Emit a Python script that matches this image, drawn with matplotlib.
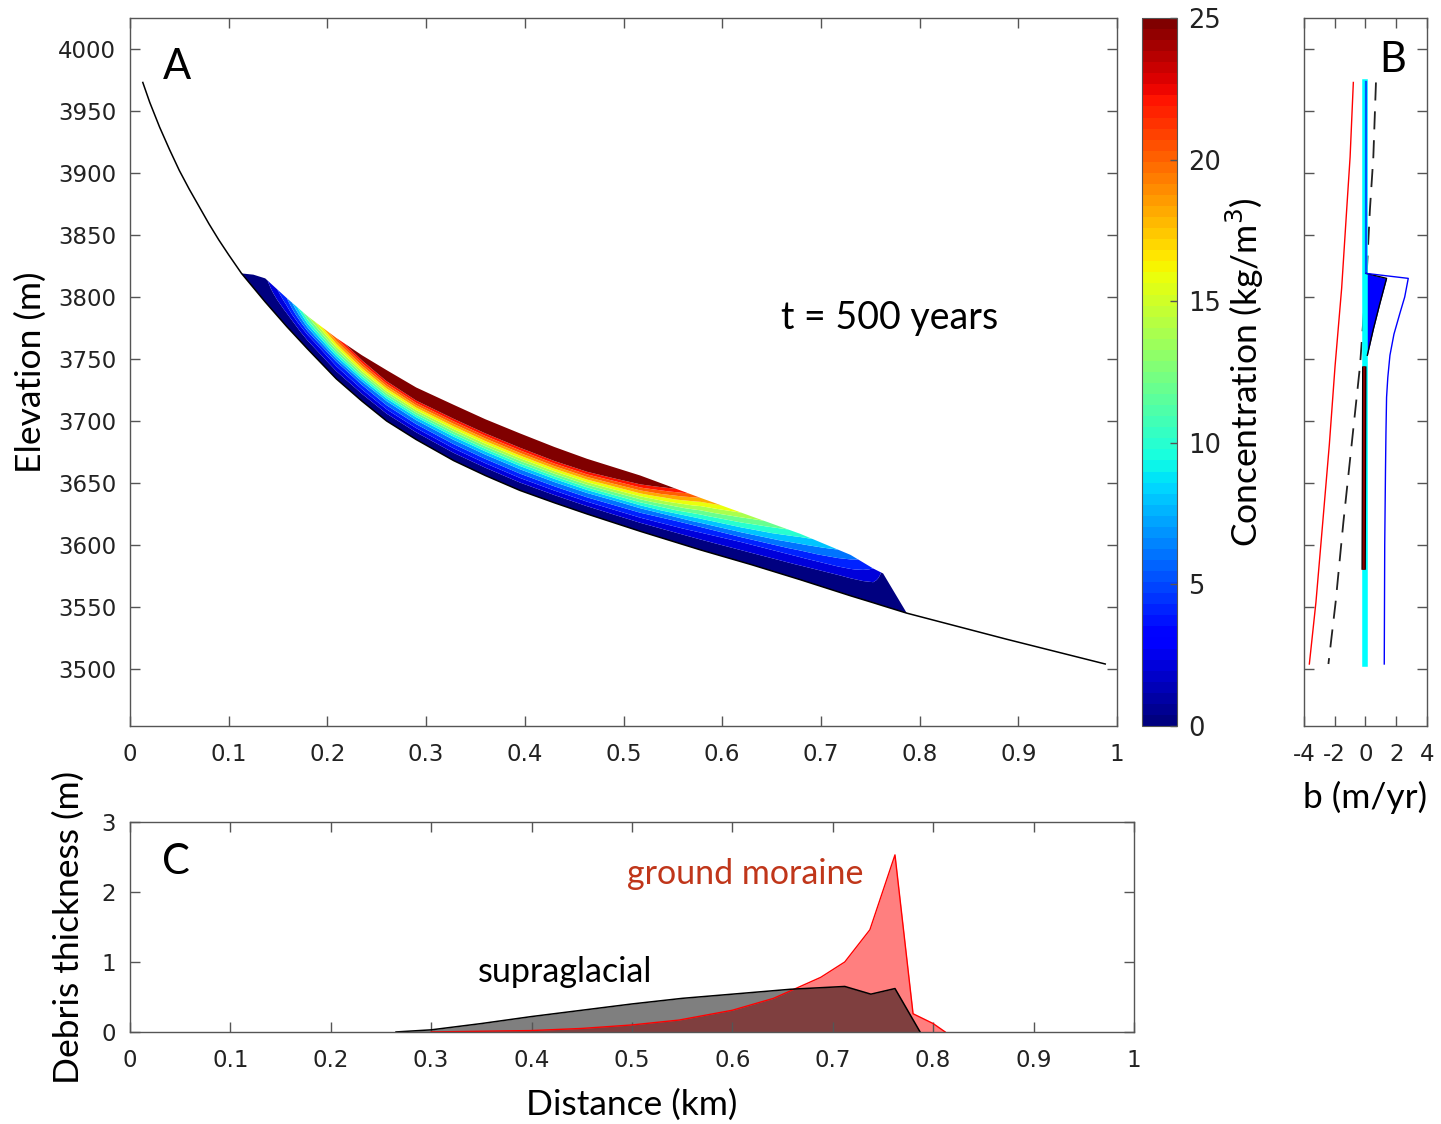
import numpy as np
import matplotlib
matplotlib.use("Agg")
import matplotlib.pyplot as plt
from matplotlib import colors
from matplotlib.cm import ScalarMappable

plt.rcParams["axes.unicode_minus"] = False
plt.rcParams["font.family"] = "DejaVu Sans"
LABEL_FONT = "Lato"

# ---- glacier surface profile (distance km, elevation m) ----
surf_x = [0.013, 0.020, 0.030, 0.040, 0.050, 0.060, 0.070, 0.080, 0.090, 0.100,
          0.113, 0.125, 0.137, 0.159, 0.180, 0.209, 0.235, 0.260, 0.290, 0.328,
          0.360, 0.395, 0.430, 0.463, 0.517, 0.578, 0.630, 0.679, 0.730, 0.753,
          0.763, 0.787, 0.888, 0.988]
surf_z = [3973, 3957, 3937, 3919, 3902, 3887, 3873, 3859, 3846, 3834,
          3819, 3807.5, 3796, 3776, 3758, 3734, 3716, 3700, 3685, 3668,
          3656, 3644, 3634, 3625, 3611, 3596, 3584, 3572, 3559, 3553.4,
          3550.9, 3545, 3524, 3504]

# ---- debris-laden ice layer: stations, base, top, concentration at top ----
deb_x = [0.113, 0.125, 0.137, 0.159, 0.180, 0.209, 0.235, 0.260, 0.290, 0.328,
         0.360, 0.395, 0.430, 0.463, 0.517, 0.578, 0.630, 0.679, 0.730, 0.753,
         0.763, 0.787]
deb_bot = [3819, 3807.5, 3796, 3776, 3758, 3734, 3716, 3700, 3685, 3668,
           3656, 3644, 3634, 3625, 3611, 3596, 3584, 3572, 3559, 3553.4,
           3550.9, 3545]
deb_top = [3819, 3818, 3815, 3799, 3784.5, 3767, 3753, 3741, 3727, 3713,
           3701.4, 3690, 3679, 3669.5, 3656, 3638, 3623, 3609, 3592, 3581,
           3577, 3545]
deb_ctop = [0, 0.5, 1.5, 6, 14, 22, 28, 33, 35, 35,
            35, 35, 35, 34, 30, 20, 15, 11, 7, 4,
            1.5, 0]
# relative concentration through the layer (0 = base, 1 = top)
eta = [0.0, 0.1, 0.2, 0.3, 0.4, 0.5, 0.6, 0.7, 0.8, 0.9, 1.0]
rel_conc = [0.0, 0.03, 0.10, 0.175, 0.25, 0.375, 0.50, 0.625, 0.75, 0.87, 1.0]
conc_levels = np.arange(0, 26, 2)

# ---- panel B: mass balance profiles (elevation m, b m/yr) ----
clean_z = [3973, 3913, 3871, 3807, 3744, 3681, 3618, 3554, 3504]
clean_b = [-0.79, -1.00, -1.22, -1.55, -1.98, -2.35, -2.78, -3.22, -3.65]
mean_z = [3973, 3913, 3871, 3819, 3744, 3681, 3618, 3554, 3504]
mean_b = [0.68, 0.51, 0.29, 0.08, -0.36, -0.90, -1.44, -1.94, -2.41]
emerg_z = [3819, 3815, 3800, 3787, 3770, 3753, 3735, 3719, 3690, 3660, 3600, 3504]
emerg_b = [0.05, 2.78, 2.55, 2.24, 1.85, 1.59, 1.45, 1.37, 1.33, 1.30, 1.25, 1.22]
wedge_z = [3819, 3815, 3795, 3774, 3753]
wedge_b = [0.05, 1.37, 0.94, 0.51, 0.12]
moraine_z = [3744, 3580]
moraine_b = [-0.08, -0.12]
top_z = [3973, 3819]
base_z = [3973, 3504]

# ---- panel C: debris thickness ----
supra_x = [0.265, 0.30, 0.35, 0.40, 0.45, 0.50, 0.55, 0.60, 0.658, 0.712, 0.738, 0.762, 0.787]
supra_h = [0, 0.03, 0.12, 0.22, 0.31, 0.40, 0.48, 0.54, 0.61, 0.65, 0.54, 0.62, 0]
ground_x = [0.30, 0.40, 0.45, 0.50, 0.547, 0.60, 0.641, 0.663, 0.688, 0.712, 0.737,
            0.762, 0.78, 0.80, 0.812]
ground_h = [0, 0.02, 0.05, 0.10, 0.17, 0.31, 0.48, 0.62, 0.78, 1.00, 1.46,
            2.53, 0.26, 0.12, 0]

elev_ticks = np.arange(3500, 4001, 50)
dist_ticks = np.round(np.arange(0, 1.01, 0.1), 1)
dist_labels = ["0"] + [f"{t:g}" for t in dist_ticks[1:-1]] + ["1"]

fig = plt.figure(figsize=(14.41, 11.24), dpi=100)
axA = fig.add_axes([0.0902, 0.3541, 0.6850, 0.6299])
cax = fig.add_axes([0.7925, 0.3541, 0.0243, 0.6299])
axB = fig.add_axes([0.9049, 0.3541, 0.0854, 0.6299])
axC = fig.add_axes([0.0902, 0.0819, 0.6967, 0.1868])

spine_col = "#555555"
for ax in (axA, axB, axC, cax):
    for s in ax.spines.values():
        s.set_color(spine_col)
        s.set_linewidth(1.0)
    ax.tick_params(direction="in", length=7, width=1.0, colors=spine_col,
                   labelcolor="#222222", labelsize=16.5, top=True, right=True)

# ---- A: concentration field ----
jet = plt.get_cmap("jet", 64)
norm = colors.Normalize(0, 25)
# each band takes the colour of its lower level, values above the last level stay dark red
band_cmap = colors.ListedColormap([jet(lv / 25) for lv in conc_levels[:-1]])
band_cmap.set_over(jet(1.0))
band_norm = colors.BoundaryNorm(conc_levels, band_cmap.N)

X = np.tile(np.array(deb_x), (len(eta), 1))
Z = (np.array(deb_bot)[None, :]
     + np.array(eta)[:, None] * (np.array(deb_top) - np.array(deb_bot))[None, :])
C = np.array(rel_conc)[:, None] * np.array(deb_ctop)[None, :]
axA.contourf(X, Z, C, levels=conc_levels, cmap=band_cmap, norm=band_norm,
             extend="max", antialiased=True)
axA.plot(surf_x, surf_z, color="black", lw=1.1)
axA.set_xlim(0, 1)
axA.set_ylim(3454, 4025)
axA.set_xticks(dist_ticks)
axA.set_xticklabels(dist_labels)
axA.set_yticks(elev_ticks)
axA.tick_params(axis="x", pad=12)
axA.tick_params(axis="y", pad=10)
axA.set_ylabel("Elevation (m)", fontsize=25.5, family=LABEL_FONT, labelpad=8)
axA.text(0.0476, 0.931, "A", transform=axA.transAxes, fontsize=30,
         family=LABEL_FONT, ha="center", va="center")
axA.text(0.77, 3783, "t = 500 years", fontsize=27, family=LABEL_FONT,
         ha="center", va="center")

# ---- colorbar ----
cb = fig.colorbar(ScalarMappable(norm=norm, cmap=jet), cax=cax)
cb.set_ticks(np.arange(0, 26, 5))
cb.outline.set_edgecolor(spine_col)
cax.tick_params(direction="in", length=5, left=False, top=False, labelsize=18.5, pad=8)
cb.set_label("Concentration (kg/m$^3$)", fontsize=25.5, family=LABEL_FONT, labelpad=2)

# ---- B: balance profiles ----
axB.plot(clean_b, clean_z, color="red", lw=1.0)
axB.plot(mean_b, mean_z, color="#222222", lw=1.3, dashes=(10, 6))
axB.plot([0, 0], base_z, color="cyan", lw=4)
axB.plot([0.05, 0.05], top_z, color="#0055ff", lw=1.6)
axB.fill_betweenx(wedge_z, 0, wedge_b, color="blue", lw=0)
axB.plot(wedge_b, wedge_z, color="black", lw=1.0)
axB.plot(emerg_b, emerg_z, color="blue", lw=1.0)
axB.plot(moraine_b, moraine_z, color="black", lw=3.2, solid_capstyle="butt")
axB.plot(moraine_b, moraine_z, color="#8b0000", lw=1.6, solid_capstyle="butt")
axB.set_xlim(-4, 4)
axB.set_ylim(3454, 4025)
axB.set_xticks([-4, -2, 0, 2, 4])
axB.set_yticks(elev_ticks)
axB.set_yticklabels([])
axB.tick_params(axis="x", pad=12)
axB.set_xlabel("b (m/yr)", fontsize=25.5, family=LABEL_FONT, labelpad=11)
axB.text(0.72, 0.941, "B", transform=axB.transAxes, fontsize=30,
         family=LABEL_FONT, ha="center", va="center")

# ---- C: debris thickness ----
axC.fill_between(ground_x, 0, ground_h, color="red", alpha=0.5, lw=0)
axC.plot(ground_x, ground_h, color="red", lw=1.0)
axC.fill_between(supra_x, 0, supra_h, color="black", alpha=0.5, lw=0)
axC.plot(supra_x, supra_h, color="black", lw=1.1)
axC.set_xlim(0, 1)
axC.set_ylim(0, 3)
axC.set_xticks(dist_ticks)
axC.set_xticklabels(dist_labels)
axC.set_yticks([0, 1, 2, 3])
axC.tick_params(axis="x", pad=12)
axC.tick_params(axis="y", pad=10)
axC.set_xlabel("Distance (km)", fontsize=25.5, family=LABEL_FONT, labelpad=12)
axC.set_ylabel("Debris thickness (m)", fontsize=25.5, family=LABEL_FONT, labelpad=12)
axC.text(0.046, 0.81, "C", transform=axC.transAxes, fontsize=30,
         family=LABEL_FONT, ha="center", va="center")
axC.text(0.6125, 2.26, "ground moraine", color="#c0361a", fontsize=24.5,
         family=LABEL_FONT, ha="center", va="center")
axC.text(0.433, 0.857, "supraglacial", color="black", fontsize=24.5,
         family=LABEL_FONT, ha="center", va="center")

fig.savefig("out.png", dpi=100)
